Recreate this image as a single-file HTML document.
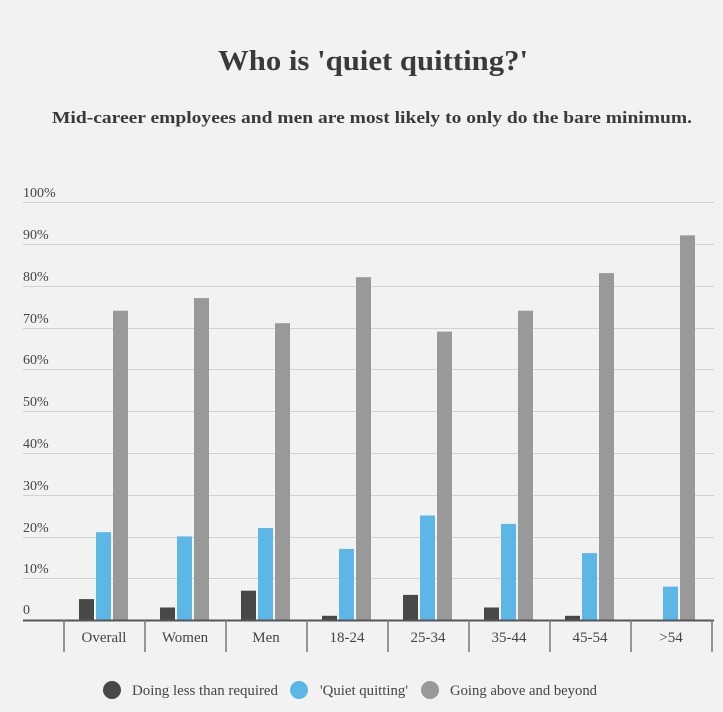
<!DOCTYPE html>
<html><head><meta charset="utf-8"><style>
html,body{margin:0;padding:0;background:#f2f2f2;}
svg{display:block;font-family:"Liberation Serif",serif;}
</style></head><body>
<svg width="723" height="712" viewBox="0 0 723 712" xmlns="http://www.w3.org/2000/svg">
<rect width="723" height="712" fill="#f2f2f2"/>
<text x="218" y="70" font-size="29" font-weight="bold" fill="#3a3a3a" textLength="310" lengthAdjust="spacingAndGlyphs">Who is 'quiet quitting?'</text>
<text x="52" y="123" font-size="17" font-weight="bold" fill="#3a3a3a" textLength="640" lengthAdjust="spacingAndGlyphs">Mid-career employees and men are most likely to only do the bare minimum.</text>
<g stroke="#d2d2d2" stroke-width="1">
<line x1="23" x2="714" y1="202.5" y2="202.5"/><line x1="23" x2="714" y1="244.5" y2="244.5"/>
<line x1="23" x2="714" y1="286.5" y2="286.5"/><line x1="23" x2="714" y1="328.5" y2="328.5"/>
<line x1="23" x2="714" y1="369.5" y2="369.5"/><line x1="23" x2="714" y1="411.5" y2="411.5"/>
<line x1="23" x2="714" y1="453.5" y2="453.5"/><line x1="23" x2="714" y1="495.5" y2="495.5"/>
<line x1="23" x2="714" y1="537.5" y2="537.5"/><line x1="23" x2="714" y1="578.5" y2="578.5"/>
</g>
<g font-size="14" fill="#444">
<text x="23" y="197">100%</text><text x="23" y="239">90%</text><text x="23" y="281">80%</text>
<text x="23" y="323">70%</text><text x="23" y="364">60%</text><text x="23" y="406">50%</text>
<text x="23" y="448">40%</text><text x="23" y="490">30%</text><text x="23" y="532">20%</text>
<text x="23" y="573">10%</text><text x="23" y="614">0</text>
</g>
<g>
<rect x="79" y="599.1" width="15" height="20.9" fill="#484848"/>
<rect x="96" y="532.2" width="15" height="87.8" fill="#5db7e6"/>
<rect x="113" y="310.7" width="15" height="309.3" fill="#999"/>
<rect x="160" y="607.5" width="15" height="12.5" fill="#484848"/>
<rect x="177" y="536.4" width="15" height="83.6" fill="#5db7e6"/>
<rect x="194" y="298.1" width="15" height="321.9" fill="#999"/>
<rect x="241" y="590.7" width="15" height="29.3" fill="#484848"/>
<rect x="258" y="528" width="15" height="92" fill="#5db7e6"/>
<rect x="275" y="323.2" width="15" height="296.8" fill="#999"/>
<rect x="322" y="615.8" width="15" height="4.2" fill="#484848"/>
<rect x="339" y="548.9" width="15" height="71.1" fill="#5db7e6"/>
<rect x="356" y="277.2" width="15" height="342.8" fill="#999"/>
<rect x="403" y="594.9" width="15" height="25.1" fill="#484848"/>
<rect x="420" y="515.5" width="15" height="104.5" fill="#5db7e6"/>
<rect x="437" y="331.6" width="15" height="288.4" fill="#999"/>
<rect x="484" y="607.5" width="15" height="12.5" fill="#484848"/>
<rect x="501" y="523.9" width="15" height="96.1" fill="#5db7e6"/>
<rect x="518" y="310.7" width="15" height="309.3" fill="#999"/>
<rect x="565" y="615.8" width="15" height="4.2" fill="#484848"/>
<rect x="582" y="553.1" width="15" height="66.9" fill="#5db7e6"/>
<rect x="599" y="273.1" width="15" height="346.9" fill="#999"/>
<rect x="663" y="586.6" width="15" height="33.4" fill="#5db7e6"/>
<rect x="680" y="235.4" width="15" height="384.6" fill="#999"/>
</g>
<line x1="23" x2="714" y1="620.5" y2="620.5" stroke="#555" stroke-width="2"/>
<g stroke="#777" stroke-width="1.5">
<line x1="64" x2="64" y1="620" y2="652"/><line x1="145" x2="145" y1="620" y2="652"/>
<line x1="226" x2="226" y1="620" y2="652"/><line x1="307" x2="307" y1="620" y2="652"/>
<line x1="388" x2="388" y1="620" y2="652"/><line x1="469" x2="469" y1="620" y2="652"/>
<line x1="550" x2="550" y1="620" y2="652"/><line x1="631" x2="631" y1="620" y2="652"/>
<line x1="712" x2="712" y1="620" y2="652"/>
</g>
<g font-size="15" fill="#444" text-anchor="middle">
<text x="104" y="642">Overall</text><text x="185" y="642">Women</text><text x="266" y="642">Men</text>
<text x="347" y="642">18-24</text><text x="428" y="642">25-34</text><text x="509" y="642">35-44</text>
<text x="590" y="642">45-54</text><text x="671" y="642">&gt;54</text>
</g>
<g font-size="15" fill="#444">
<circle cx="112" cy="690" r="9" fill="#484848"/><text x="132" y="695" textLength="146" lengthAdjust="spacingAndGlyphs">Doing less than required</text>
<circle cx="299" cy="690" r="9" fill="#5db7e6"/><text x="320" y="695" textLength="88" lengthAdjust="spacingAndGlyphs">'Quiet quitting'</text>
<circle cx="430" cy="690" r="9" fill="#999"/><text x="450" y="695" textLength="147" lengthAdjust="spacingAndGlyphs">Going above and beyond</text>
</g>
</svg>
</body></html>
